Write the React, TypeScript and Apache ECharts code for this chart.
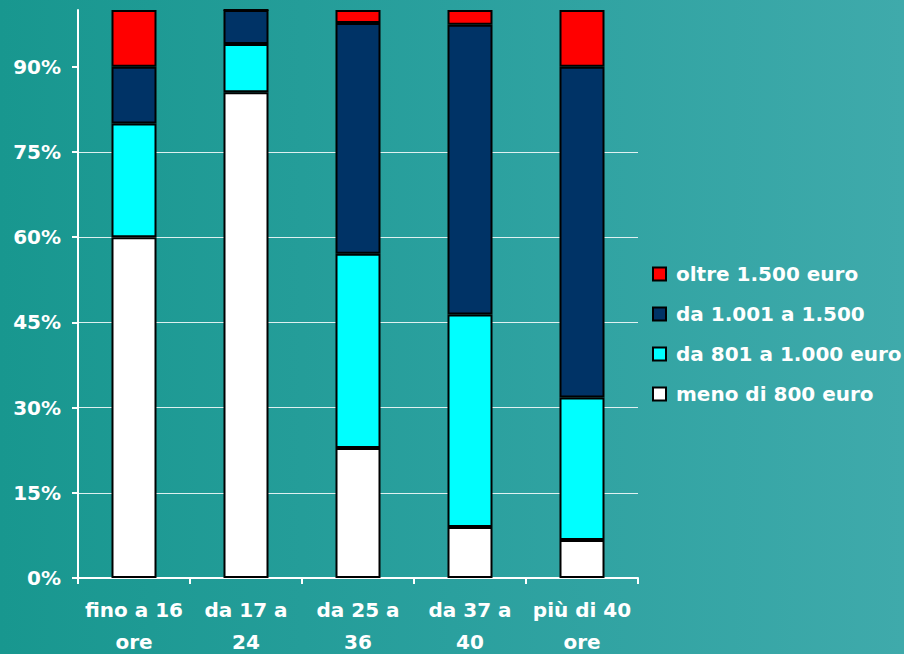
import React, { useEffect, useRef } from "react";
import * as echarts from "echarts";

const categories = ["fino a 16\nore", "da 17 a\n24", "da 25 a\n36", "da 37 a\n40", "più di 40\nore"];
const yTicks = [0, 15, 30, 45, 60, 75, 90];

const seriesNames = ["meno di 800 euro", "da 801 a 1.000 euro", "da 1.001 a 1.500", "oltre 1.500 euro"];
const menoDi800 = [60, 85.5, 22.9, 9.0, 6.7];
const da801a1000 = [20, 8.5, 34.2, 37.4, 25.1];
const da1001a1500 = [10, 6.0, 40.6, 51.0, 58.2];
const oltre1500 = [10, 0, 2.3, 2.6, 10];
const seriesColors = ["#FFFFFF", "#00FFFF", "#003366", "#FF0000"];
const legendOrder = ["oltre 1.500 euro", "da 1.001 a 1.500", "da 801 a 1.000 euro", "meno di 800 euro"];

const FONT = "DejaVu Sans";

export default function App() {
  const ref = useRef<HTMLDivElement>(null);
  useEffect(() => {
    if (!ref.current) return;
    const chart = echarts.init(ref.current, undefined, { renderer: "svg" });
    const values = [menoDi800, da801a1000, da1001a1500, oltre1500];
    chart.setOption({
      animation: false,
      backgroundColor: "transparent",
      grid: { left: 78, right: 266, top: 10, bottom: 76, containLabel: false, outerBoundsMode: "none" },
      legend: {
        orient: "vertical",
        left: 652,
        top: 264,
        padding: 0,
        itemWidth: 13,
        itemHeight: 13,
        itemGap: 20,
        icon: "rect",
        data: legendOrder,
        itemStyle: { borderColor: "#000", borderWidth: 2 },
        textStyle: {
          color: "#fff",
          fontFamily: FONT,
          fontWeight: "bold",
          fontSize: 20,
          lineHeight: 20,
          padding: [0, 0, 0, 5],
        },
      },
      xAxis: {
        type: "category",
        data: categories,
        axisLine: { lineStyle: { color: "#fff", width: 2 } },
        axisTick: { show: true, length: 6, lineStyle: { color: "#fff", width: 2 } },
        axisLabel: {
          color: "#fff",
          fontFamily: FONT,
          fontWeight: "bold",
          fontSize: 20,
          lineHeight: 32,
          margin: 16,
          interval: 0,
        },
        splitLine: { show: false },
      },
      yAxis: {
        type: "value",
        min: 0,
        max: 100,
        interval: 15,
        axisLine: { show: true, lineStyle: { color: "#fff", width: 2 } },
        axisTick: { show: true, length: 6, lineStyle: { color: "#fff", width: 2 }, customValues: yTicks },
        axisLabel: {
          color: "#fff",
          fontFamily: FONT,
          fontWeight: "bold",
          fontSize: 20,
          margin: 17,
          customValues: yTicks,
          formatter: (v: number) => `${v}%`,
        },
        splitLine: { show: true, showMinLine: false, showMaxLine: false, lineStyle: { color: "rgba(255,255,255,0.85)", width: 1 } },
      },
      series: seriesNames.map((name, i) => ({
        name,
        type: "bar",
        stack: "total",
        barWidth: 45,
        data: values[i],
        itemStyle: { color: seriesColors[i], borderColor: "#000", borderWidth: 2 },
      })),
    });
    return () => chart.dispose();
  }, []);
  return (
    <div
      style={{
        position: "absolute",
        left: 0,
        top: 0,
        width: 904,
        height: 654,
        background: "linear-gradient(to right, #18978f 0%, #2aa09e 50%, #3faaab 100%)",
      }}
    >
      <div ref={ref} style={{ width: 904, height: 654 }} />
    </div>
  );
}
